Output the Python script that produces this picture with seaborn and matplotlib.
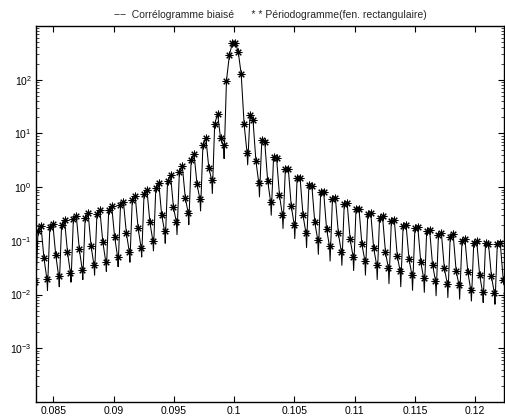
import numpy as np
import pandas as pd
import matplotlib
matplotlib.use("Agg")
import matplotlib.pyplot as plt
from matplotlib.ticker import LogLocator, NullFormatter, FixedLocator, FixedFormatter
import seaborn as sns

# FFT grid of the spectral estimate
NFFT = 4096
first_bin = 341

# Periodogram (rectangular window), one value per FFT bin starting at first_bin
periodogram = [
    0.042, 0.017,
    0.155, 0.19, 0.048, 0.0195,
    0.18, 0.21, 0.055, 0.022,
    0.20, 0.24, 0.062, 0.025,
    0.26, 0.29, 0.071, 0.029,
    0.27, 0.33, 0.081, 0.035,
    0.32, 0.37, 0.095, 0.041,
    0.37, 0.45, 0.12, 0.051,
    0.46, 0.53, 0.14, 0.062,
    0.58, 0.68, 0.17, 0.075,
    0.74, 0.88, 0.22, 0.10,
    0.98, 1.2, 0.30, 0.15,
    1.31, 1.67, 0.42, 0.22,
    1.92, 2.48, 0.64, 0.33,
    3.16, 4.08, 1.12, 0.59,
    6.0, 8.2, 2.3, 1.35,
    15.1, 23.0, 8.1, 6.0,
    96.0, 290.0, 480.0, 490.0,
    330.0, 127.0, 14.7, 4.3,
    22.0, 18.0, 3.07, 1.17,
    7.4, 6.9, 1.31, 0.53,
    3.64, 3.55, 0.71, 0.30,
    2.22, 2.2, 0.45, 0.20,
    1.51, 1.5, 0.30, 0.139,
    1.08, 1.06, 0.22, 0.105,
    0.80, 0.82, 0.167, 0.079,
    0.61, 0.63, 0.139, 0.063,
    0.48, 0.50, 0.108, 0.051,
    0.39, 0.40, 0.087, 0.043,
    0.32, 0.33, 0.073, 0.036,
    0.27, 0.29, 0.062, 0.031,
    0.23, 0.245, 0.053, 0.027,
    0.19, 0.20, 0.046, 0.023,
    0.17, 0.18, 0.040, 0.020,
    0.15, 0.16, 0.036, 0.018,
    0.13, 0.14, 0.031, 0.016,
    0.12, 0.133, 0.028, 0.015,
    0.10, 0.107, 0.026, 0.012,
    0.093, 0.10, 0.023, 0.011,
    0.091, 0.088, 0.022, 0.0105,
    0.087, 0.091, 0.019, 0.010,
]

# Extra points of the biased correlogram between the bins (deep nulls)
dip_bins = [
    342.2, 346.2, 350.2, 354.2, 358.2, 362.2, 366.2, 370.2, 374.2, 378.2,
    382.2, 386.2, 390.2, 394.2, 398.2, 402.2, 406.2, 414.2, 418.2, 422.2,
    426.2, 430.2, 434.2, 438.2, 442.2, 446.2, 450.2, 454.2, 458.2, 462.2,
    466.2, 470.2, 474.2, 478.2, 482.2, 486.2, 490.2, 494.2, 498.2, 502.2,
]
dip_values = [
    0.011, 0.012, 0.014, 0.017, 0.019, 0.023, 0.027, 0.033, 0.040, 0.050,
    0.065, 0.09, 0.13, 0.20, 0.36, 0.76, 3.4, 2.6, 0.66, 0.30,
    0.17, 0.11, 0.075, 0.056, 0.042, 0.035, 0.028, 0.023, 0.019, 0.016,
    0.014, 0.012, 0.011, 0.0095, 0.0088, 0.0082, 0.0076, 0.0071, 0.0066, 0.0062,
]

x_ticks = [0.085, 0.09, 0.095, 0.1, 0.105, 0.11, 0.115, 0.12]
x_labels = ["0.085", "0.09", "0.095", "0.1", "0.105", "0.11", "0.115", "0.12"]
y_ticks = [1e-3, 1e-2, 1e-1, 1e0, 1e1, 1e2]
y_labels = [r"$10^{-3}$", r"$10^{-2}$", r"$10^{-1}$", r"$10^{0}$", r"$10^{1}$", r"$10^{2}$"]

freq = np.arange(first_bin, first_bin + len(periodogram)) / NFFT
per = pd.DataFrame({"f": freq, "P": periodogram})
dips = pd.DataFrame({"f": np.array(dip_bins) / NFFT, "P": dip_values})
corr = pd.concat([per, dips], ignore_index=True).sort_values("f").reset_index(drop=True)

sns.set_style("ticks")
plt.rcParams["font.family"] = ["Liberation Sans", "DejaVu Sans"]
plt.rcParams["mathtext.fontset"] = "custom"
plt.rcParams["mathtext.rm"] = "Liberation Sans"
plt.rcParams["mathtext.it"] = "Liberation Sans"

fig = plt.figure(figsize=(5.05, 4.19), dpi=100)
fig.patch.set_facecolor("white")
ax = fig.add_axes([36 / 505, 1 - 402 / 419, 468 / 505, 376 / 419])

sns.lineplot(data=corr, x="f", y="P", color="black", linewidth=0.75,
             estimator=None, sort=False, ax=ax)
sns.lineplot(data=per, x="f", y="P", color="black", linestyle="none",
             marker=(8, 2, 0), markersize=5.5, markeredgewidth=0.75,
             markeredgecolor="black", estimator=None, sort=False, ax=ax)

ax.set_yscale("log")
ax.set_xlim(0.08357, 0.12238)
ax.set_ylim(1e-4, 1e3)

ax.xaxis.set_major_locator(FixedLocator(x_ticks))
ax.xaxis.set_major_formatter(FixedFormatter(x_labels))
ax.yaxis.set_major_locator(FixedLocator(y_ticks))
ax.yaxis.set_major_formatter(FixedFormatter(y_labels))
ax.yaxis.set_minor_locator(LogLocator(base=10, subs=np.arange(2, 10), numticks=20))
ax.yaxis.set_minor_formatter(NullFormatter())

ax.tick_params(axis="both", which="major", direction="in", length=4, width=0.8,
               top=True, right=True, labelsize=7.5, pad=3, colors="black")
ax.tick_params(axis="y", which="minor", direction="in", length=2, width=0.6,
               right=True)
ax.tick_params(axis="x", which="minor", bottom=False, top=False)

for s in ax.spines.values():
    s.set_visible(True)
    s.set_linewidth(1.0)
    s.set_color("black")

ax.set_xlabel("")
ax.set_ylabel("")
ax.set_title("−−  Corrélogramme biaisé      * * Périodogramme(fen. rectangulaire)",
             fontsize=7.5, pad=6)

fig.savefig("out.png", dpi=100, facecolor="white")
